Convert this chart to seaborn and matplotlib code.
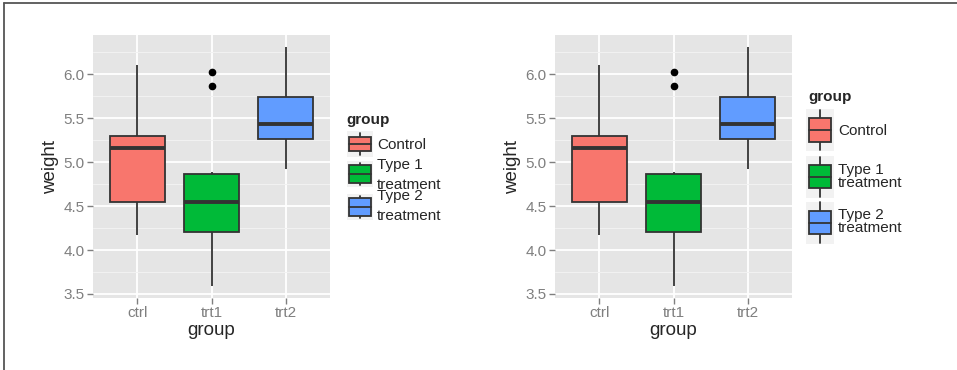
import numpy as np
import pandas as pd
import seaborn as sns
import matplotlib.pyplot as plt
from matplotlib.patches import Rectangle
from matplotlib.lines import Line2D
from matplotlib.ticker import MultipleLocator

# PlantGrowth weights per group
ctrl = [4.17, 5.58, 5.18, 6.11, 4.50, 4.61, 5.17, 4.53, 5.33, 5.14]
trt1 = [4.81, 4.17, 4.41, 3.59, 5.87, 3.83, 6.03, 4.89, 4.32, 4.69]
trt2 = [6.31, 5.12, 5.54, 5.50, 5.37, 5.29, 4.92, 6.15, 5.80, 5.26]
groups = ['ctrl', 'trt1', 'trt2']
labels = ['Control', 'Type 1\ntreatment', 'Type 2\ntreatment']
colors = ['#F8766D', '#00BA38', '#619CFF']
yticks = [3.5, 4.0, 4.5, 5.0, 5.5, 6.0]

df = pd.DataFrame({
    'group': np.repeat(groups, [len(ctrl), len(trt1), len(trt2)]),
    'weight': ctrl + trt1 + trt2,
})

sns.set_theme(style='darkgrid', rc={
    'axes.facecolor': '#E5E5E5',
    'grid.color': 'white',
    'axes.edgecolor': 'none',
})
plt.rcParams['font.family'] = ['Liberation Sans', 'DejaVu Sans']

W, H = 957, 370
fig = plt.figure(figsize=(W / 100, H / 100), dpi=100)
fig.patch.set_facecolor('white')


def fx(x):
    return x / W


def fy(y):
    return 1 - y / H


def draw_panel(left_px):
    ax = fig.add_axes([fx(left_px), fy(298), 237 / W, 263 / H])
    sns.boxplot(data=df, x='group', y='weight', hue='group', palette=colors,
                order=groups, hue_order=groups, saturation=1, width=0.75,
                linecolor='#333333', linewidth=1.3, showcaps=False,
                medianprops={'linewidth': 2.8, 'color': '#333333'},
                flierprops={'marker': 'o', 'markerfacecolor': 'black',
                            'markeredgecolor': 'black', 'markersize': 4.5},
                legend=False, ax=ax)
    ax.set_xlim(-0.6, 2.6)
    ax.set_ylim(3.454, 6.446)
    ax.set_yticks(yticks)
    ax.set_yticklabels([f'{t:.1f}' for t in yticks])
    ax.yaxis.set_minor_locator(MultipleLocator(0.25))
    ax.grid(True, which='major', color='white', linewidth=1.3)
    ax.grid(True, which='minor', axis='y', color='#F2F2F2', linewidth=0.7)
    ax.set_axisbelow(True)
    ax.tick_params(axis='both', which='major', length=4, width=1,
                   color='#7F7F7F', labelcolor='#7F7F7F', labelsize=11,
                   pad=2, bottom=True, left=True)
    ax.tick_params(which='minor', length=0)
    ax.set_xlabel('group', fontsize=13.5, labelpad=1)
    ax.set_ylabel('weight', fontsize=13.5, labelpad=3)
    for s in ax.spines.values():
        s.set_visible(False)
    return ax


def draw_key(cx, cy, box_half, whisk_half, color, bg):
    x0, x1 = bg[0], bg[1]
    fig.add_artist(Rectangle((fx(x0), fy(bg[3])), fx(x1 - x0), (bg[3] - bg[2]) / H,
                             transform=fig.transFigure, facecolor='#F2F2F2',
                             edgecolor='none', zorder=1))
    fig.add_artist(Line2D([fx(cx), fx(cx)], [fy(cy - whisk_half), fy(cy + whisk_half)],
                          transform=fig.transFigure, color='#333333', lw=1.3, zorder=2))
    fig.add_artist(Rectangle((fx(cx - 11), fy(cy + box_half)), 22 / W, 2 * box_half / H,
                             transform=fig.transFigure, facecolor=color,
                             edgecolor='#333333', lw=1.3, zorder=3))
    fig.add_artist(Line2D([fx(cx - 11), fx(cx + 11)], [fy(cy), fy(cy)],
                          transform=fig.transFigure, color='#333333', lw=1.3, zorder=4))


ax1 = draw_panel(93)
ax2 = draw_panel(555)

# legend of left panel: fixed-height keys, so the two-line labels collide
fig.text(fx(346), fy(120), 'group', fontsize=11, fontweight='bold', va='center')
keys1 = [144, 174, 207]
halves1 = [7, 9, 9]
for cy, hb, c in zip(keys1, halves1, colors):
    draw_key(360, cy, hb, 11, c, (347, 373, cy - 13, cy + 13))
text1 = [(145, 'Control'), (165, 'Type 1'), (185, 'treatment'),
         (196, 'Type 2'), (216, 'treatment')]
for y, t in text1:
    fig.text(fx(377), fy(y), t, fontsize=11, va='center')

# legend of right panel: keys sized to the labels
fig.text(fx(808), fy(97), 'group', fontsize=11, fontweight='bold', va='center')
keys2 = [130, 176.5, 222.5]
text_y2 = [131, 176.5, 221.5]
for cy, c in zip(keys2, colors):
    draw_key(820, cy, 11.5, 20, c, (806, 834, cy - 21, cy + 21))
for y, lab in zip(text_y2, labels):
    fig.text(fx(838), fy(y), lab, fontsize=11, va='center', linespacing=0.95)

# frame lines on left and top edge
fig.add_artist(Line2D([fx(4), fx(4)], [0, fy(3)], transform=fig.transFigure,
                      color='#555555', lw=1.3))
fig.add_artist(Line2D([fx(4), 1], [fy(3), fy(3)], transform=fig.transFigure,
                      color='#555555', lw=1.3))

fig.savefig('out.png', dpi=100)
